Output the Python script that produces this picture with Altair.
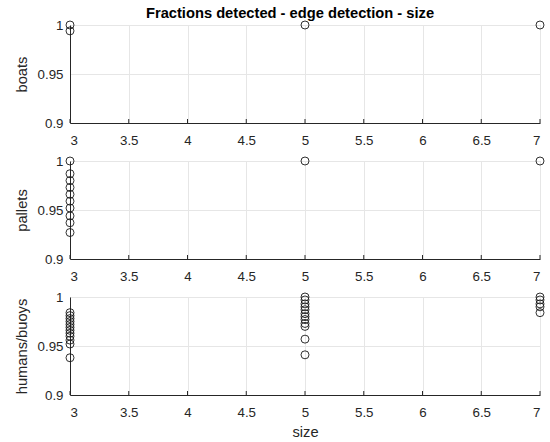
import altair as alt
import pandas as pd

# ---- data ----
boats_size = [3, 3, 5, 7]
boats_frac = [1.0, 0.994, 1.0, 1.0]

pallets_size = [3] * 10 + [5, 7]
pallets_frac = [1.0, 0.987, 0.98, 0.973, 0.966, 0.959, 0.952, 0.944, 0.937, 0.927, 1.0, 1.0]

humans_size = [3] * 12 + [5] * 12 + [7] * 5
humans_frac = [0.984, 0.981, 0.978, 0.975, 0.972, 0.969, 0.966, 0.963, 0.96, 0.956, 0.952, 0.938,
               1.0, 0.997, 0.993, 0.99, 0.987, 0.983, 0.98, 0.977, 0.973, 0.97, 0.957, 0.941,
               1.0, 0.997, 0.993, 0.99, 0.984]

x_ticks = [3, 3.5, 4, 4.5, 5, 5.5, 6, 6.5, 7]
y_ticks = [0.9, 0.95, 1.0]

panels = [
    ("boats", boats_size, boats_frac),
    ("pallets", pallets_size, pallets_frac),
    ("humans/buoys", humans_size, humans_frac),
]

FONT = "Liberation Sans"
TXT = "#262626"
W, H = 470, 98

xscale = alt.Scale(domain=[3, 7], nice=False, zero=False)
yscale = alt.Scale(domain=[0.9, 1.0], nice=False, zero=False)
ticks_df = pd.DataFrame({"t": x_ticks})

charts = []
for i, (name, xs, ys) in enumerate(panels):
    df = pd.DataFrame({"size": xs, "frac": ys})
    last = i == len(panels) - 1
    xaxis = alt.Axis(
        values=x_ticks, format="~g", title="size" if last else None,
        grid=True, gridColor="#e6e6e6", ticks=False, labelPadding=10,
        domainColor="#262626", labelColor=TXT, labelFontSize=13.3, labelFont=FONT,
        titleFont=FONT, titleFontSize=14.7, titleFontWeight="normal", titleColor=TXT,
        titlePadding=6,
    )
    yaxis = alt.Axis(
        values=y_ticks, format="~g", title=name, grid=True, gridColor="#e6e6e6",
        ticks=False, labelPadding=7, domainColor="#262626", labelColor=TXT,
        labelFontSize=13.3, labelFont=FONT, titleFont=FONT, titleFontSize=14.7,
        titleFontWeight="normal", titleColor=TXT, titlePadding=8,
    )
    pts = alt.Chart(df).mark_point(
        shape="circle", filled=False, color="#1a1a1a", size=64, strokeWidth=0.9, opacity=1, clip=False
    ).encode(
        x=alt.X("size:Q", scale=xscale, axis=xaxis),
        y=alt.Y("frac:Q", scale=yscale, axis=yaxis),
    )
    tk = alt.Chart(ticks_df).mark_rule(color="#262626", strokeWidth=1).encode(
        x=alt.X("t:Q", scale=xscale),
        y=alt.value(H),
        y2=alt.value(H - 4),
    )
    charts.append(alt.layer(tk, pts).properties(width=W, height=H))

chart = alt.vconcat(*charts, spacing=38, bounds="flush").properties(
    title=alt.TitleParams(
        "Fractions detected - edge detection - size", anchor="middle", frame="group",
        font=FONT, fontSize=14.7, fontWeight="bold", color="#000000", offset=-3, dx=-15,
    ),
    padding={"left": 13, "top": 5, "right": 0, "bottom": 0},
).configure_view(stroke=None).configure(background="white")

chart.save("out.html", embed_options={"renderer": "svg", "actions": False})
